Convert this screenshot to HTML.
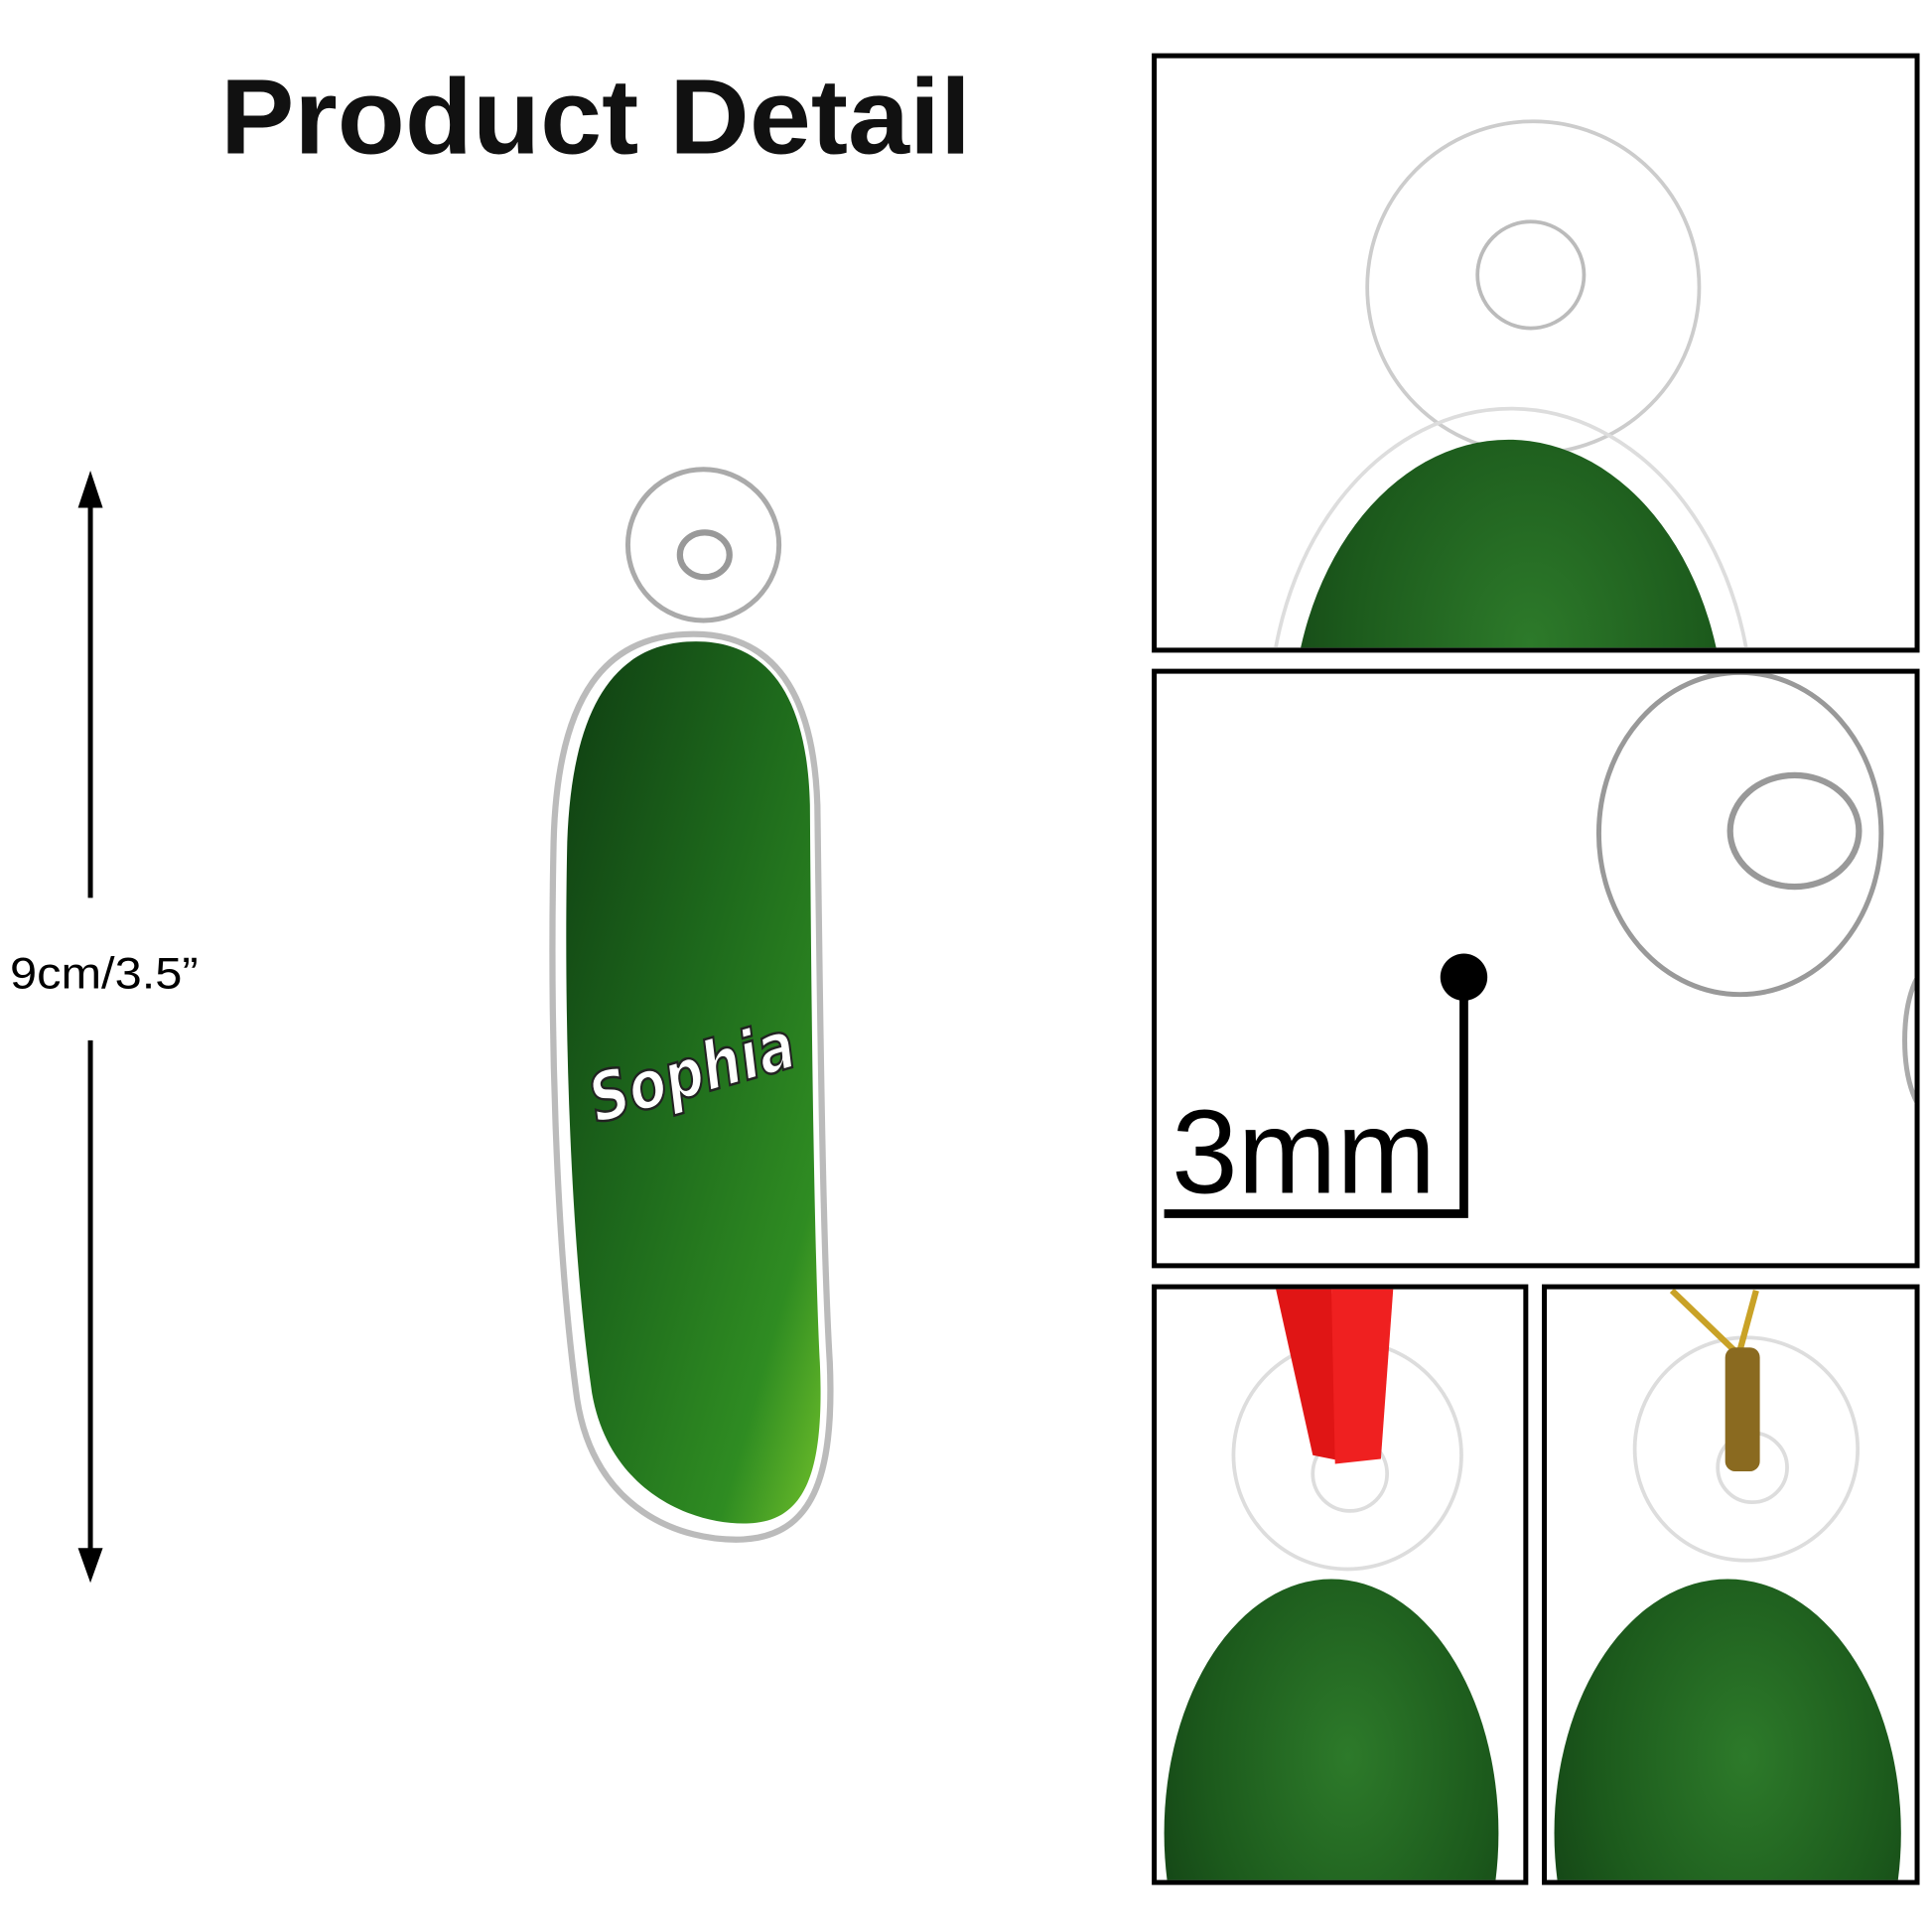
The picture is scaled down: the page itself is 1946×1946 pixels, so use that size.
<!DOCTYPE html>
<html><head><meta charset="utf-8"><style>
html,body{margin:0;padding:0;background:#fff;width:1946px;height:1946px;overflow:hidden;}
svg{display:block;}
</style></head><body>
<svg width="1946" height="1946" viewBox="0 0 1560 1560" xmlns="http://www.w3.org/2000/svg">
<defs>
<linearGradient id="g" x1="0" y1="0" x2="1" y2="1">
<stop offset="0" stop-color="#0f3d12"/>
<stop offset="0.45" stop-color="#1e6a1c"/>
<stop offset="0.8" stop-color="#2f8c22"/>
<stop offset="1" stop-color="#6fbf2a"/>
</linearGradient>
<radialGradient id="d" cx="0.55" cy="0.35" r="0.7">
<stop offset="0" stop-color="#2d7a2a"/>
<stop offset="0.6" stop-color="#1c5a1c"/>
<stop offset="1" stop-color="#123e14"/>
</radialGradient>
<clipPath id="c1"><rect x="934" y="47" width="612" height="476"/></clipPath>
<clipPath id="c2"><rect x="934" y="544" width="612" height="476"/></clipPath>
<clipPath id="c3"><rect x="934" y="1041" width="296" height="477"/></clipPath>
<clipPath id="c4"><rect x="1249" y="1041" width="297" height="477"/></clipPath>
</defs>
<rect width="1560" height="1560" fill="#fff"/>
<text x="178" y="124" textLength="606" lengthAdjust="spacingAndGlyphs" font-family="Liberation Sans, sans-serif" font-weight="bold" font-size="86" fill="#111">Product Detail</text>

<line x1="73" y1="400" x2="73" y2="725" stroke="#000" stroke-width="4"/>
<line x1="73" y1="840" x2="73" y2="1260" stroke="#000" stroke-width="4"/>
<polygon points="73,380 63,410 83,410" fill="#000"/>
<polygon points="73,1278 63,1250 83,1250" fill="#000"/>
<text x="8" y="798" textLength="152" lengthAdjust="spacingAndGlyphs" font-family="Liberation Sans, sans-serif" font-size="36" fill="#000">9cm/3.5”</text>

<circle cx="568" cy="440" r="61" fill="none" stroke="#aaa" stroke-width="4"/>
<ellipse cx="569" cy="448" rx="20" ry="18" fill="none" stroke="#999" stroke-width="5"/>
<path d="M560,512 C490,512 450,560 447,680 C444,820 448,1000 466,1130 C480,1220 550,1245 600,1243 C655,1240 674,1195 670,1100 C664,1000 662,800 660,650 C657,560 625,512 560,512 Z" fill="none" stroke="#bbb" stroke-width="5"/>
<path d="M562,518 C500,518 462,565 458,680 C455,820 460,1000 478,1125 C492,1205 560,1232 605,1230 C650,1228 666,1190 662,1100 C657,1000 655,800 654,650 C652,565 622,518 562,518 Z" fill="url(#g)"/>
<g transform="rotate(-16 555 860)">
<text x="472" y="885" textLength="170" lengthAdjust="spacingAndGlyphs" font-family="DejaVu Sans, sans-serif" font-style="italic" font-weight="bold" font-size="54" fill="#fff" stroke="#222" stroke-width="2">Sophia</text>
</g>

<g fill="none" stroke="#000" stroke-width="4">
<rect x="932" y="45" width="616" height="480"/>
<rect x="932" y="542" width="616" height="480"/>
<rect x="932" y="1039" width="300" height="481"/>
<rect x="1247" y="1039" width="301" height="481"/>
</g>

<g clip-path="url(#c1)">
<circle cx="1238" cy="232" r="134" fill="none" stroke="#ccc" stroke-width="3"/>
<circle cx="1236" cy="222" r="43" fill="none" stroke="#bbb" stroke-width="3"/>
<ellipse cx="1220" cy="580" rx="195" ry="250" fill="none" stroke="#ddd" stroke-width="3"/>
<ellipse cx="1218" cy="590" rx="175" ry="235" fill="url(#d)"/>
</g>

<g clip-path="url(#c2)">
<ellipse cx="1405" cy="673" rx="114" ry="130" fill="none" stroke="#999" stroke-width="4"/>
<ellipse cx="1449" cy="671" rx="52" ry="45" fill="none" stroke="#999" stroke-width="5"/>
<ellipse cx="1560" cy="840" rx="22" ry="60" fill="none" stroke="#aaa" stroke-width="4"/>
</g>
<circle cx="1182" cy="789" r="19" fill="#000"/>
<polyline points="1182,789 1182,980 940,980" fill="none" stroke="#000" stroke-width="7"/>
<text x="946" y="963" font-family="Liberation Sans, sans-serif" font-size="96" fill="#000">3mm</text>

<g clip-path="url(#c3)">
<circle cx="1088" cy="1175" r="92" fill="none" stroke="#ddd" stroke-width="3"/>
<circle cx="1090" cy="1190" r="30" fill="none" stroke="#ddd" stroke-width="3"/>
<polygon points="1030,1040 1075,1040 1085,1180 1060,1175" fill="#e01515"/>
<polygon points="1075,1040 1125,1040 1115,1178 1078,1182" fill="#ef2020"/>
<ellipse cx="1075" cy="1480" rx="135" ry="205" fill="url(#d)"/>
</g>

<g clip-path="url(#c4)">
<circle cx="1410" cy="1170" r="90" fill="none" stroke="#ddd" stroke-width="3"/>
<circle cx="1415" cy="1185" r="28" fill="none" stroke="#ddd" stroke-width="3"/>
<path d="M1350,1042 L1400,1090 M1418,1042 L1405,1090" stroke="#c9a227" stroke-width="5" fill="none"/>
<rect x="1393" y="1088" width="28" height="100" rx="8" fill="#8a6a20"/>
<ellipse cx="1395" cy="1480" rx="140" ry="205" fill="url(#d)"/>
</g>
</svg>
</body></html>
